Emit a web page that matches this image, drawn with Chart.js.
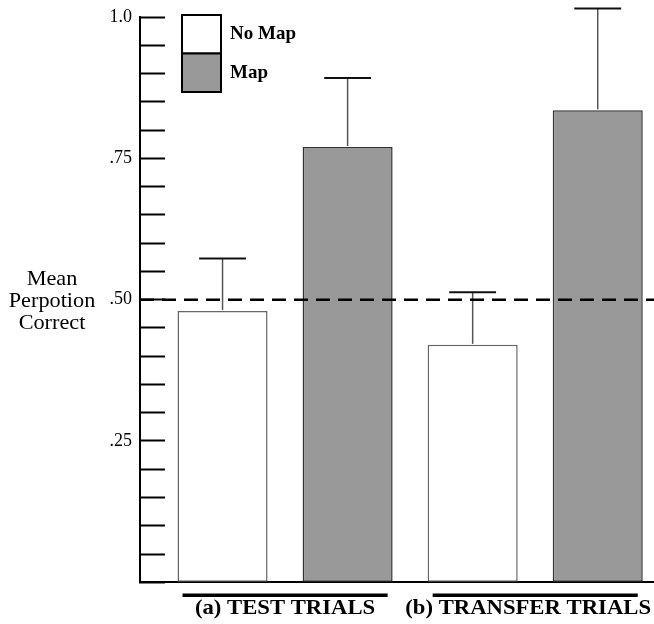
<!DOCTYPE html>
<html lang="en">
<head>
<meta charset="UTF-8">
<title>Mean Perpotion Correct</title>
<script src="https://cdn.jsdelivr.net/npm/chart.js@4.4.1/dist/chart.umd.min.js"></script>
<style>
  html, body { margin: 0; padding: 0; background: #fff; overflow: hidden; }
  #wrap { width: 654px; height: 624px; position: relative; }
</style>
</head>
<body>
<div id="wrap"><canvas id="myChart"></canvas></div>
<script>
// data
var categories = ['(a) TEST TRIALS', '(b) TRANSFER TRIALS'];
var categoryPos = [1, 2];
var seriesNames = ['No Map', 'Map'];
var noMap = [0.48, 0.42];
var map = [0.77, 0.835];
var noMapErr = [0.093, 0.093];
var mapErr = [0.122, 0.18];
var chance = 0.5;
var yTickLabels = {25: '.25', 50: '.50', 75: '.75', 100: '1.0'};
var yTitle = ['Mean', 'Perpotion', 'Correct'];

var serif = "'Liberation Serif', 'Times New Roman', serif";
var errors = [noMapErr, mapErr];

function points(values) {
    return values.map(function (v, i) {
        return {x: categoryPos[i], y: v};
    });
}

// text is a bit wider in the original, stretch it sideways
function wideText(ctx, text, x, y, sx) {
    ctx.save();
    ctx.translate(x, y);
    ctx.scale(sx, 1);
    ctx.fillText(text, 0, 0);
    ctx.restore();
}

var extras = {
    id: 'extras',
    afterDatasetsDraw: function (chart) {
        var ctx = chart.ctx, xs = chart.scales.x, ys = chart.scales.y, area = chart.chartArea;
        ctx.save();

        // error bars (upper half only)
        errors.forEach(function (errs, d) {
            var meta = chart.getDatasetMeta(d);
            var vals = chart.data.datasets[d].data;
            meta.data.forEach(function (bar, i) {
                var yTop = ys.getPixelForValue(vals[i].y + errs[i]);
                var half = bar.width * 0.26;
                ctx.strokeStyle = '#555';
                ctx.lineWidth = 1.5;
                ctx.beginPath();
                ctx.moveTo(bar.x, bar.y - 1);
                ctx.lineTo(bar.x, yTop);
                ctx.stroke();
                ctx.strokeStyle = '#111';
                ctx.lineWidth = 2;
                ctx.beginPath();
                ctx.moveTo(bar.x - half, yTop);
                ctx.lineTo(bar.x + half, yTop);
                ctx.stroke();
            });
        });

        // chance line
        var yc = ys.getPixelForValue(chance);
        ctx.strokeStyle = '#000';
        ctx.lineWidth = 2.5;
        ctx.setLineDash([14, 8]);
        ctx.beginPath();
        ctx.moveTo(area.left, yc);
        ctx.lineTo(area.right, yc);
        ctx.stroke();
        ctx.setLineDash([]);

        // group labels with rule above
        ctx.fillStyle = '#000';
        ctx.font = 'bold 21px ' + serif;
        ctx.textAlign = 'center';
        ctx.textBaseline = 'alphabetic';
        categories.forEach(function (name, i) {
            var x1 = xs.getPixelForValue(categoryPos[i] - 0.41);
            var x2 = xs.getPixelForValue(categoryPos[i] + 0.41);
            ctx.lineWidth = 3.5;
            ctx.beginPath();
            ctx.moveTo(x1, area.bottom + 13);
            ctx.lineTo(x2, area.bottom + 13);
            ctx.stroke();
            var w = ctx.measureText(name).width * 1.08;
            var cx = Math.min((x1 + x2) / 2, chart.width - w / 2 - 3);
            wideText(ctx, name, cx, area.bottom + 32, 1.08);
        });

        // y title, horizontal
        ctx.font = '21px ' + serif;
        yTitle.forEach(function (line, i) {
            wideText(ctx, line, 52, yc - 15 + i * 22, 1.06);
        });

        // legend
        var lx = area.left + 42, ly = area.top - 2;
        ctx.font = 'bold 19px ' + serif;
        ctx.textAlign = 'left';
        chart.data.datasets.forEach(function (ds, i) {
            var by = ly + i * 38.5;
            ctx.fillStyle = ds.backgroundColor;
            ctx.fillRect(lx, by, 39, 38.5);
            ctx.strokeStyle = '#000';
            ctx.lineWidth = 2;
            ctx.strokeRect(lx, by, 39, 38.5);
            ctx.fillStyle = '#000';
            ctx.fillText(ds.label, lx + 48, by + 24);
        });

        ctx.restore();
    }
};

var ctx = document.querySelector('#myChart').getContext('2d');
new Chart(ctx, {
    type: 'bar',
    data: {
        datasets: [{
            label: seriesNames[0],
            data: points(noMap),
            backgroundColor: '#ffffff',
            borderColor: '#666666',
            borderWidth: 1.5,
            borderSkipped: false
        }, {
            label: seriesNames[1],
            data: points(map),
            backgroundColor: '#999999',
            borderColor: '#333333',
            borderWidth: 1.5,
            borderSkipped: false
        }]
    },
    options: {
        responsive: true,
        maintainAspectRatio: false,
        animation: false,
        categoryPercentage: 1,
        barPercentage: 0.72,
        layout: {padding: {top: 17, left: 0, right: 0, bottom: 0}},
        plugins: {legend: {display: false}, tooltip: {enabled: false}},
        scales: {
            x: {
                type: 'linear',
                min: 0.42,
                max: 2.475,
                offset: false,
                afterBuildTicks: function (s) {
                    s.ticks = categoryPos.map(function (v) { return {value: v}; });
                },
                afterFit: function (s) { s.height = 41.7; },
                ticks: {display: false},
                grid: {display: false, offset: false},
                border: {display: true, color: '#000', width: 2}
            },
            y: {
                min: 0,
                max: 1,
                afterFit: function (s) {
                    s.width = 140;
                    s.paddingTop = 0;
                    s.paddingBottom = 0;
                },
                ticks: {
                    stepSize: 0.05,
                    maxTicksLimit: 21,
                    autoSkip: false,
                    padding: 33,
                    color: '#000',
                    font: {family: serif, size: 18},
                    callback: function (v) { return yTickLabels[Math.round(v * 100)] || ''; }
                },
                grid: {drawOnChartArea: false, drawTicks: true, tickLength: -25, tickWidth: 2, tickColor: '#000'},
                border: {display: true, color: '#000', width: 2}
            }
        }
    },
    plugins: [extras]
});
</script>
</body>
</html>
